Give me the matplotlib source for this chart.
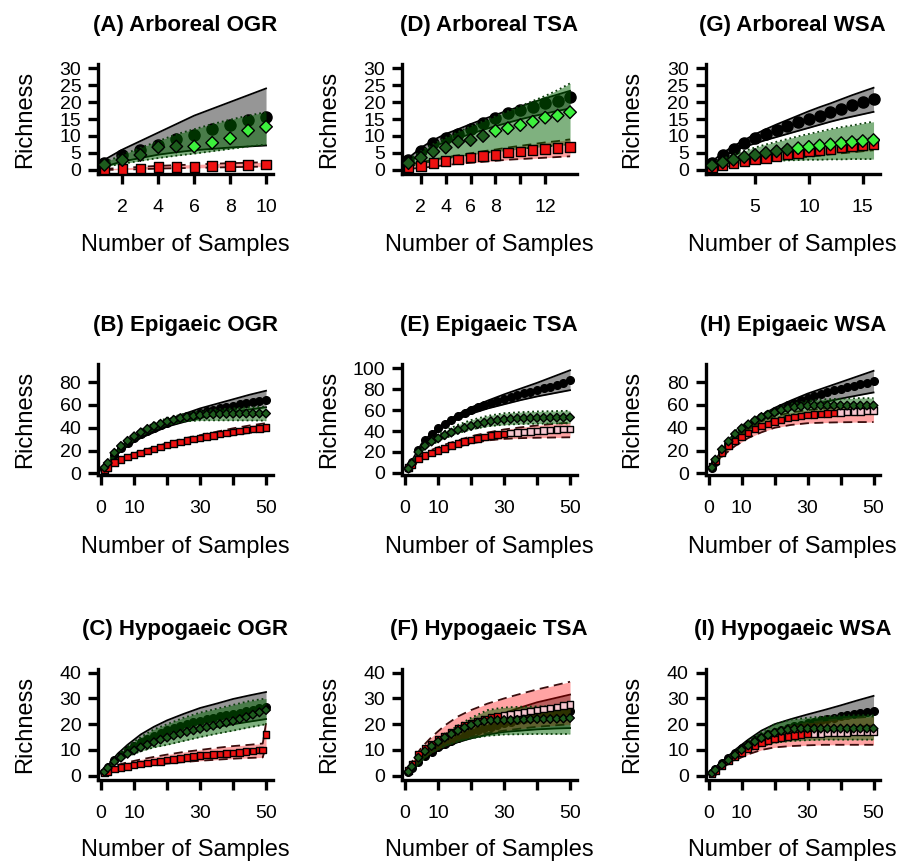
import matplotlib
matplotlib.use('Agg')
import matplotlib.pyplot as plt

plt.rcParams['font.family'] = ['Liberation Sans', 'DejaVu Sans']

# sample sizes
x10 = list(range(1, 11))
x14 = list(range(1, 15))
x16 = list(range(1, 17))
x50 = [1, 2, 4, 6, 8, 10, 12, 14, 16, 18, 20, 22, 24, 26, 28, 30, 32, 34, 36,
       38, 40, 42, 44, 46, 48, 50]
band50 = [1, 3, 5, 8, 12, 16, 20, 25, 30, 35, 40, 45, 50]

# (A) Arboreal OGR
a_black = [2.0, 4.4, 5.9, 7.4, 9.0, 10.3, 12.0, 13.2, 14.7, 15.7]
a_black_lo = [1.0, 2.5, 3.5, 4.5, 5.2, 5.8, 6.2, 6.6, 6.9, 7.2]
a_black_hi = [3.0, 6.0, 8.5, 11.0, 13.5, 16.0, 18.0, 20.0, 22.0, 24.0]
a_green = [1.5, 2.9, 4.4, 6.7, 6.9, 6.9, 8.0, 9.3, 11.6, 12.7]
a_green_lo = [1.0, 1.8, 2.7, 3.5, 4.2, 4.8, 5.5, 6.2, 6.9, 7.5]
a_green_hi = [2.2, 4.5, 6.5, 8.5, 10.5, 12.0, 13.5, 14.8, 16.0, 17.0]
a_red = [0.1, 0.3, 0.5, 0.8, 0.9, 0.9, 1.1, 1.2, 1.4, 1.6]
a_red_lo = [0.0, 0.1, 0.2, 0.4, 0.5, 0.6, 0.7, 0.8, 0.9, 1.0]
a_red_hi = [0.3, 0.6, 0.9, 1.2, 1.4, 1.6, 1.8, 2.0, 2.1, 2.3]

# (D) Arboreal TSA
d_black = [2.9, 5.7, 7.8, 9.3, 10.6, 12.2, 13.7, 15.2, 16.7, 17.6, 18.6, 19.6, 20.4, 21.4]
d_black_lo = [2.3, 4.8, 6.8, 8.3, 9.4, 10.6, 11.8, 12.9, 13.9, 14.9, 15.8, 16.6, 17.4, 18.1]
d_black_hi = [3.5, 6.5, 8.8, 10.6, 12.0, 13.5, 14.9, 16.2, 17.5, 18.7, 19.9, 21.1, 22.2, 23.3]
d_green = [2.0, 3.6, 5.4, 6.6, 8.3, 8.8, 10.0, 11.5, 12.3, 13.2, 14.2, 15.4, 16.0, 17.0]
d_green_lo = [1.0, 1.8, 2.7, 3.4, 4.0, 4.5, 5.0, 5.4, 5.8, 6.2, 6.6, 6.9, 7.2, 7.5]
d_green_hi = [3.0, 5.5, 7.6, 9.5, 11.2, 12.8, 14.3, 15.8, 17.3, 18.8, 20.3, 21.8, 23.5, 25.5]
d_red = [0.8, 1.2, 2.0, 2.6, 3.1, 3.6, 4.1, 4.4, 5.1, 5.4, 5.9, 6.1, 6.4, 6.7]
d_red_lo = [0.3, 0.6, 1.0, 1.4, 1.8, 2.1, 2.4, 2.7, 3.0, 3.2, 3.4, 3.6, 3.8, 4.0]
d_red_hi = [1.5, 2.3, 3.0, 3.7, 4.3, 4.9, 5.5, 6.0, 6.6, 7.1, 7.6, 8.1, 8.5, 9.0]

# (G) Arboreal WSA
g_black = [2.0, 4.5, 6.2, 8.0, 9.3, 10.7, 11.8, 12.8, 14.0, 15.0, 16.0, 17.0, 18.0, 19.0, 20.0, 20.8]
g_black_lo = [1.5, 4.0, 5.5, 6.8, 7.8, 8.8, 9.7, 10.6, 11.5, 12.4, 13.3, 14.2, 15.0, 15.7, 16.4, 17.1]
g_black_hi = [2.5, 5.0, 7.0, 8.8, 10.5, 12.0, 13.4, 14.7, 16.0, 17.3, 18.5, 19.6, 20.8, 22.0, 23.1, 24.2]
g_green = [1.3, 2.2, 3.0, 3.8, 4.4, 5.0, 5.5, 6.0, 6.4, 6.8, 7.2, 7.5, 7.9, 8.2, 8.5, 8.8]
g_green_lo = [0.8, 1.2, 1.6, 2.0, 2.3, 2.5, 2.7, 2.8, 2.9, 3.0, 3.0, 3.1, 3.1, 3.2, 3.2, 3.2]
g_green_hi = [2.0, 3.3, 4.5, 5.6, 6.6, 7.5, 8.3, 9.1, 9.9, 10.6, 11.3, 12.0, 12.6, 13.1, 13.7, 14.2]
g_red = [0.9, 1.5, 2.0, 2.5, 3.0, 3.5, 4.0, 4.5, 5.0, 5.4, 5.8, 6.2, 6.6, 7.0, 7.3, 7.7]
g_red_lo = [0.4, 0.8, 1.2, 1.6, 2.0, 2.4, 2.8, 3.2, 3.5, 3.9, 4.2, 4.6, 4.9, 5.2, 5.5, 5.8]
g_red_hi = [1.5, 2.3, 3.0, 3.6, 4.2, 4.8, 5.3, 5.8, 6.3, 6.8, 7.3, 7.8, 8.3, 8.7, 9.1, 9.5]

# (B) Epigaeic OGR
b_black = [4, 8, 16, 22, 27, 31, 34.5, 37.5, 40, 42.5, 44.5, 46.5, 48.5, 50, 51.5, 53,
           54.5, 55.8, 57, 58.2, 59.4, 60.5, 61.6, 62.7, 63.7, 64.7]
b_black_lo = [3, 10, 17, 24, 31, 36, 41, 45, 48.5, 51.5, 54, 56, 58]
b_black_hi = [5, 12, 20, 28, 36, 42, 47, 52, 57, 61, 65, 69, 72.5]
b_green = [5, 9, 18, 24, 28.5, 32.5, 36, 39, 41.5, 43.5, 45.5, 47, 48.5, 49.5, 50.3, 51,
           51.5, 51.8, 52, 52.2, 52.3, 52.4, 52.5, 52.5, 52.5, 52.5]
b_green_lo = [4, 11, 18, 25.5, 33, 38.5, 42.5, 45.5, 46.5, 46.5, 46.5, 46.4, 46.3]
b_green_hi = [6, 14, 22, 30, 38.5, 44, 48.5, 52, 54.5, 56, 57, 58, 58.6]
b_red = [3, 5, 9.5, 12, 14.2, 16, 18, 19.8, 21.5, 23.2, 24.8, 26.2, 27.5, 28.8, 30, 31.2,
         32.3, 33.3, 34.3, 35.2, 36.1, 37, 37.9, 38.7, 39.5, 40.3]
b_red_lo = [2, 6, 9, 12.5, 16.5, 20, 23, 26.5, 29, 31.5, 33.5, 35.5, 37]
b_red_hi = [4, 8, 11.5, 15.5, 19.5, 23, 26.5, 30.5, 33.5, 36.5, 39.5, 42, 44]

# (E) Epigaeic TSA
e_black = [5, 10, 22, 31, 37.5, 43, 47, 51, 54.5, 57.5, 60, 62.5, 64.5, 66.5, 68.5, 70.5,
           72.5, 74.2, 76, 77.7, 79.3, 81, 82.5, 84.2, 86, 88.5]
e_black_lo = [4, 13, 24, 35, 44.5, 51.5, 56.5, 61.5, 65.5, 69.5, 73, 76, 79]
e_black_hi = [6, 17, 28, 38, 48, 56, 62.5, 69, 75, 80.5, 86, 92, 98]
e_green = [4, 9, 20, 26, 30, 33, 36, 38.5, 41, 43, 44.8, 46.5, 48, 49.3, 50.3, 51, 51.5,
           52, 52.2, 52.4, 52.5, 52.6, 52.7, 52.8, 52.9, 53]
e_green_lo = [3, 11, 21, 27, 33, 38, 41.5, 44.5, 46, 46.7, 47, 47.2, 47.3]
e_green_hi = [5, 15, 26, 33, 40, 46, 50.5, 54.5, 57, 58, 58.7, 59, 59.3]
e_red = [5, 8, 13.5, 16.5, 19, 21.3, 23.5, 26, 28, 30, 31.5, 33, 34.5, 35.5, 36.5, 37.3,
         38, 38.6, 39.2, 39.7, 40.1, 40.5, 40.9, 41.3, 41.7, 42]
e_red_lo = [4, 8, 13, 17, 21, 25, 28, 31, 32.5, 33.2, 33.6, 33.8, 34]
e_red_hi = [6, 12, 17, 22, 27, 31, 35, 38.5, 41.5, 43.5, 45.3, 46.8, 48]

# (H) Epigaeic WSA
h_black = [5, 10, 19, 26, 33, 38.5, 42.5, 46, 49.5, 52.3, 55, 57.5, 59.8, 62, 64.2, 66.2,
           68, 69.8, 71.5, 73, 74.3, 75.6, 76.9, 78.2, 79.6, 81]
h_black_lo = [4, 12, 20, 30, 40, 47, 52, 56, 59.5, 62.5, 65.5, 68.3, 71]
h_black_hi = [6, 16, 23, 33, 43, 51, 57.5, 64, 70, 75, 80, 85, 90]
h_green = [5, 12, 21, 28, 34.5, 39.5, 43, 46.5, 49.5, 51.5, 53.5, 55.5, 57, 58, 58.8, 59.3,
           59.5, 59.6, 59.6, 59.6, 59.6, 59.5, 59.5, 59.5, 59.5, 59.5]
h_green_lo = [4, 12, 19, 28, 37, 43, 48, 51.5, 53, 53.3, 53.2, 53.1, 53]
h_green_hi = [6, 16, 25, 37, 45.5, 52, 56.5, 61, 63.5, 65, 65.5, 66, 66]
h_red = [6, 11, 18, 24, 28.5, 32, 35.5, 39, 41.5, 43.5, 45.5, 47, 48.5, 49.5, 50.3, 51,
         51.6, 52.1, 52.6, 53, 53.4, 53.8, 54.1, 54.4, 54.7, 55]
h_red_lo = [5, 12, 17, 24, 31, 36, 40, 42.5, 44, 44.5, 44.8, 45, 45]
h_red_hi = [8, 17, 24, 32, 40, 46, 50, 53.5, 55.5, 57, 58, 59, 60]

# (C) Hypogaeic OGR
c_black = [1.5, 3.2, 6, 8, 9.8, 11.5, 13, 14.3, 15.5, 16.6, 17.6, 18.5, 19.3, 20, 20.7,
           21.3, 21.9, 22.5, 23, 23.5, 24, 24.5, 25, 25.6, 26.2, 26.8]
c_black_lo = [1, 4, 6.5, 9, 11.5, 13.5, 15, 16.5, 17.8, 19, 20, 21, 22]
c_black_hi = [2, 5.5, 8.5, 12, 16, 19, 21.5, 24, 26.3, 28, 29.8, 31.2, 32.5]
c_green = [1.5, 3, 5.5, 7, 8.5, 9.8, 11, 12, 13, 14, 14.8, 15.6, 16.3, 17, 17.6, 18.2,
           18.8, 19.4, 20, 20.6, 21.2, 22, 22.8, 23.7, 24.6, 25.5]
c_green_lo = [1, 3.5, 5.5, 7.5, 9.5, 11, 12, 13.5, 15, 16.3, 17.5, 18.8, 20]
c_green_hi = [2, 5, 8, 11.5, 15, 18, 20, 22.5, 24.5, 26, 27.5, 29, 30]
c_red_x = [1, 2, 4, 6, 8, 10, 12, 14, 16, 18, 20, 22, 24, 26, 28, 30, 32, 34, 36, 38, 40,
           42, 44, 46, 48, 49, 50]
c_red = [1, 1.5, 2.6, 3.2, 3.6, 4.2, 4.6, 5, 5.3, 5.6, 6, 6.3, 6.7, 7, 7.4, 7.8, 8, 8.2,
         8.4, 8.6, 8.9, 9.1, 9.3, 9.6, 9.9, 10, 16]
c_red_band_x = [1, 3, 5, 8, 12, 16, 20, 25, 30, 35, 40, 45, 49, 50]
c_red_lo = [0.5, 1.5, 2.3, 3, 3.6, 4.2, 4.7, 5.3, 5.8, 6.2, 6.6, 6.9, 7.1, 11.5]
c_red_hi = [1.5, 3, 4.2, 5.2, 6.3, 7.3, 8.2, 9.2, 10, 10.8, 11.5, 12, 12.5, 20.5]

# (F) Hypogaeic TSA
f_black = [1.5, 3, 5.5, 7.5, 9.3, 11, 12.4, 13.6, 14.8, 15.8, 16.8, 17.6, 18.4, 19.1, 19.8,
           20.4, 21, 21.5, 22, 22.5, 23, 23.4, 23.8, 24.2, 24.6, 25]
f_black_lo = [1, 3.5, 6, 8.5, 11, 13, 14.5, 16, 17, 17.5, 18, 18.3, 18.5]
f_black_hi = [2, 5, 8, 11, 14.5, 17.3, 19.5, 22, 24.3, 26.5, 28.5, 30, 31.5]
f_green = [1.5, 3.5, 7, 9.5, 11.5, 13.2, 14.8, 16.2, 17.5, 18.7, 19.7, 20.6, 21.2, 21.5,
           21.6, 21.6, 21.6, 21.7, 21.8, 21.9, 22, 22, 22, 22.1, 22.2, 22.4]
f_green_lo = [1, 3, 6, 9, 11.5, 13.3, 14.5, 15.5, 16, 16.1, 16.2, 16.2, 16.2]
f_green_hi = [2, 6, 8.5, 12, 16, 19.5, 22.5, 25.5, 26.5, 26.8, 26.9, 27, 27]
f_red = [2, 4.5, 8.5, 10.5, 12.2, 14, 15.5, 17, 18.3, 19.4, 20.4, 21.3, 22, 22.6, 23.1,
         23.5, 23.9, 24.3, 24.7, 25.1, 25.5, 25.9, 26.3, 26.7, 27.2, 27.7]
f_red_lo = [1, 4, 6.5, 9, 11.5, 13.5, 15, 16.5, 17.5, 18.3, 19, 19.5, 20]
f_red_hi = [3, 7.5, 11, 15, 19.5, 23, 25.5, 28, 30, 31.8, 33.5, 35, 36.5]

# (I) Hypogaeic WSA
i_black = [1, 2.5, 5, 7, 9, 10.8, 12.3, 13.7, 15, 16, 17, 17.8, 18.5, 19.2, 19.8, 20.4,
           21, 21.5, 22, 22.5, 23, 23.5, 24, 24.4, 24.8, 25.2]
i_black_lo = [0.5, 3, 5, 8, 11, 13.5, 15, 16.5, 17.3, 18, 18.5, 19, 19.5]
i_black_hi = [1.5, 4, 6.5, 10, 14, 17.5, 20, 22, 23.8, 25.5, 27.3, 29.2, 31]
i_green = [1, 2.2, 4.2, 6, 8, 10, 11.7, 13.2, 14.6, 15.8, 16.7, 17.4, 17.9, 18.2, 18.3,
           18.3, 18.3, 18.3, 18.3, 18.3, 18.3, 18.3, 18.3, 18.3, 18.3, 18.3]
i_green_lo = [0.5, 2.5, 4.3, 7, 9.5, 11.5, 12.8, 13.5, 13.8, 14, 14, 14, 14]
i_green_hi = [1.5, 3.5, 6, 9.5, 13.5, 17, 20, 21.8, 22.5, 23, 23.3, 23.5, 23.5]
i_red = [0.8, 2, 4, 5.8, 7.5, 9, 10.3, 11.5, 12.6, 13.5, 14.2, 14.8, 15.3, 15.7, 16, 16.2,
         16.3, 16.4, 16.5, 16.6, 16.7, 16.8, 16.9, 17, 17, 17]
i_red_lo = [0.3, 2, 3.8, 6, 8.3, 10, 11, 11.5, 11.8, 12, 12, 12, 12]
i_red_hi = [1.5, 3.5, 5.5, 8.5, 12, 15, 17.3, 19.3, 20.5, 21.3, 22, 22.5, 23]

ticks50 = [0, 10, 20, 30, 40, 50]
labels50 = ['0', '10', '', '30', '', '50']

panels = [
    dict(title='(A) Arboreal OGR', r=0, c=0, x=x10, bx=x10,
         black=(a_black, a_black_lo, a_black_hi), green=(a_green, a_green_lo, a_green_hi),
         red=(a_red, a_red_lo, a_red_hi), xlim=(0.64, 10.36), ylim=(-1.2, 31.2),
         yticks=[0, 5, 10, 15, 20, 25, 30], xticks=[2, 4, 6, 8, 10],
         xlabels=['2', '4', '6', '8', '10'], bright=6, pink=None, big=True),
    dict(title='(D) Arboreal TSA', r=0, c=1, x=x14, bx=x14,
         black=(d_black, d_black_lo, d_black_hi), green=(d_green, d_green_lo, d_green_hi),
         red=(d_red, d_red_lo, d_red_hi), xlim=(0.48, 14.52), ylim=(-1.2, 31.2),
         yticks=[0, 5, 10, 15, 20, 25, 30], xticks=[2, 4, 6, 8, 10, 12],
         xlabels=['2', '4', '6', '8', '', '12'], bright=8, pink=None, big=True),
    dict(title='(G) Arboreal WSA', r=0, c=2, x=x16, bx=x16,
         black=(g_black, g_black_lo, g_black_hi), green=(g_green, g_green_lo, g_green_hi),
         red=(g_red, g_red_lo, g_red_hi), xlim=(0.4, 16.6), ylim=(-1.2, 31.2),
         yticks=[0, 5, 10, 15, 20, 25, 30], xticks=[5, 10, 15],
         xlabels=['5', '10', '15'], bright=9, pink=None, big=True),
    dict(title='(B) Epigaeic OGR', r=1, c=0, x=x50, bx=band50,
         black=(b_black, b_black_lo, b_black_hi), green=(b_green, b_green_lo, b_green_hi),
         red=(b_red, b_red_lo, b_red_hi), xlim=(-0.96, 51.96), ylim=(-1.5, 96),
         yticks=[0, 20, 40, 60, 80], xticks=ticks50, xlabels=labels50,
         bright=None, pink=None, big=False),
    dict(title='(E) Epigaeic TSA', r=1, c=1, x=x50, bx=band50,
         black=(e_black, e_black_lo, e_black_hi), green=(e_green, e_green_lo, e_green_hi),
         red=(e_red, e_red_lo, e_red_hi), xlim=(-0.96, 51.96), ylim=(-2, 104),
         yticks=[0, 20, 40, 60, 80, 100], xticks=ticks50, xlabels=labels50,
         bright=None, pink=32, big=False),
    dict(title='(H) Epigaeic WSA', r=1, c=2, x=x50, bx=band50,
         black=(h_black, h_black_lo, h_black_hi), green=(h_green, h_green_lo, h_green_hi),
         red=(h_red, h_red_lo, h_red_hi), xlim=(-0.96, 51.96), ylim=(-1.5, 96),
         yticks=[0, 20, 40, 60, 80], xticks=ticks50, xlabels=labels50,
         bright=None, pink=40, big=False),
    dict(title='(C) Hypogaeic OGR', r=2, c=0, x=x50, bx=band50,
         black=(c_black, c_black_lo, c_black_hi), green=(c_green, c_green_lo, c_green_hi),
         red=(c_red, c_red_lo, c_red_hi), red_x=c_red_x, red_bx=c_red_band_x,
         xlim=(-0.96, 51.96), ylim=(-1.6, 41.6),
         yticks=[0, 10, 20, 30, 40], xticks=ticks50, xlabels=labels50,
         bright=None, pink=None, big=False),
    dict(title='(F) Hypogaeic TSA', r=2, c=1, x=x50, bx=band50,
         black=(f_black, f_black_lo, f_black_hi), green=(f_green, f_green_lo, f_green_hi),
         red=(f_red, f_red_lo, f_red_hi), xlim=(-0.96, 51.96), ylim=(-1.6, 41.6),
         yticks=[0, 10, 20, 30, 40], xticks=ticks50, xlabels=labels50,
         bright=None, pink=30, big=False),
    dict(title='(I) Hypogaeic WSA', r=2, c=2, x=x50, bx=band50,
         black=(i_black, i_black_lo, i_black_hi), green=(i_green, i_green_lo, i_green_hi),
         red=(i_red, i_red_lo, i_red_hi), xlim=(-0.96, 51.96), ylim=(-1.6, 41.6),
         yticks=[0, 10, 20, 30, 40], xticks=ticks50, xlabels=labels50,
         bright=None, pink=32, big=False),
]

# layout in pixels
W, H = 902, 865
col_left = [98, 402, 705.5]
row_top = [64, 364, 668.6]
row_h = [110, 111, 111.2]
ax_w = 174.5
xlab_off = [71, 72, 70]

fig = plt.figure(figsize=(W / 100, H / 100), dpi=100)


def band(ax, bx, lo, hi, fill, alpha, lc, ls, z):
    ax.fill_between(bx, lo, hi, color=fill, alpha=alpha, lw=0, zorder=z)
    ax.plot(bx, lo, color=lc, ls=ls, lw=1.3, zorder=z + 0.1)
    ax.plot(bx, hi, color=lc, ls=ls, lw=1.3, zorder=z + 0.1)


for p in panels:
    r, c = p['r'], p['c']
    left, top, h = col_left[c], row_top[r], row_h[r]
    ax = fig.add_axes([left / W, 1 - (top + h) / H, ax_w / W, h / H])
    ax.set_xlim(*p['xlim'])
    ax.set_ylim(*p['ylim'])

    ms = 8.0 if p['big'] else 5.5
    x, bx = p['x'], p['bx']
    rx = p.get('red_x', x)
    rbx = p.get('red_bx', bx)

    yb, yb_lo, yb_hi = p['black']
    yg, yg_lo, yg_hi = p['green']
    yr, yr_lo, yr_hi = p['red']

    band(ax, bx, yb_lo, yb_hi, '#505050', 0.6, 'black', '-', 1)
    ax.scatter(x, yb, s=ms ** 2, marker='o', facecolors='black', edgecolors='black',
               linewidths=1, zorder=2)

    band(ax, rbx, yr_lo, yr_hi, '#ff0000', 0.36, '#3a0d0d', (0, (5, 3)), 3)
    band(ax, bx, yg_lo, yg_hi, '#006400', 0.5, '#0b3d0b', ':', 4)

    red_fc = ['#f6c6cf' if (p['pink'] and v >= p['pink']) else '#ee1111' for v in rx]
    ax.scatter(rx, yr, s=(ms * 0.85) ** 2, marker='s', facecolors=red_fc,
               edgecolors='black', linewidths=1, zorder=5)

    green_fc = ['#3df03d' if (p['bright'] and v >= p['bright']) else '#1d5c1d' for v in x]
    ax.scatter(x, yg, s=(ms * 0.8) ** 2, marker='D', facecolors=green_fc,
               edgecolors='black', linewidths=1, zorder=6)

    for s in ['top', 'right']:
        ax.spines[s].set_visible(False)
    for s in ['left', 'bottom']:
        ax.spines[s].set_linewidth(2.4)
    ax.set_yticks(p['yticks'])
    ax.set_xticks(p['xticks'])
    ax.set_xticklabels(p['xlabels'])
    ax.tick_params(direction='out', length=7, width=2.4, labelsize=14, colors='black')
    ax.tick_params(axis='x', pad=11)
    ax.tick_params(axis='y', pad=5)

    cx = left + ax_w / 2
    fig.text(cx / W, 1 - (top - 39) / H, p['title'], ha='center', va='center',
             fontsize=16, fontweight='bold')
    fig.text((left - 73) / W, 1 - (top + h / 2) / H, 'Richness', rotation=90,
             ha='center', va='center', fontsize=17)
    fig.text(cx / W, 1 - (top + h + xlab_off[r]) / H, 'Number of Samples',
             ha='center', va='center', fontsize=17)

fig.savefig('out.png', dpi=100)
